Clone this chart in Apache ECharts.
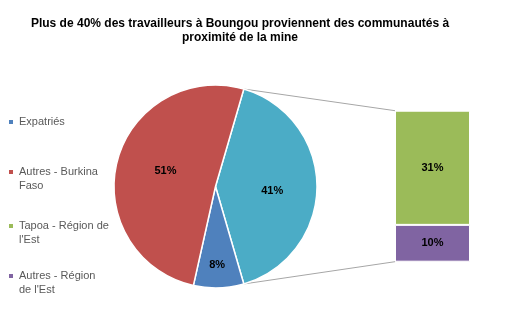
<!DOCTYPE html>
<html><head><meta charset="utf-8">
<script src="https://cdn.jsdelivr.net/npm/echarts@6/dist/echarts.min.js"></script>
<style>html,body{margin:0;padding:0;background:#fff}#c{width:505px;height:326px}</style>
</head><body><div id="c"></div>
<script>
const titleText = 'Plus de 40% des travailleurs à Boungou proviennent des communautés à\nproximité de la mine';
const pieNames = ['Autres', 'Expatriés', 'Autres - Burkina Faso'];
const pieValues = [41, 8, 51];
const barCategory = ['Détail'];
// stacked from bottom to top
const barNames = ["Autres - Région de l'Est", "Tapoa - Région de l'Est"];
const barValues = [10, 31];
const legendNames = ['Expatriés', 'Autres - Burkina Faso', "Tapoa - Région de l'Est", "Autres - Région de l'Est"];
const legendText = ['Expatriés', 'Autres - Burkina\nFaso', "Tapoa - Région de\nl'Est", "Autres - Région\nde l'Est"];

const pieColors = ['#4BACC6', '#4F81BD', '#C0504D'];
const barColors = ['#8064A2', '#9BBB59'];
const FONT = '"Liberation Sans", Arial, sans-serif';
const cx = 215.5, cy = 186.5, R = 101.5;
const gridLeft = 395, gridTop = 110.7, gridW = 75, gridH = 151;

const total = pieValues.reduce((a, b) => a + b, 0);
const otherTotal = barValues.reduce((a, b) => a + b, 0);
const startAngle = pieValues[0] / total * 180;

const chart = echarts.init(document.getElementById('c'), null, {renderer: 'canvas'});
const legendIconY = [122, 172, 226, 276];
const legends = legendNames.map((n, i) => {
  const lines = legendText[i].split('\n').length;
  const boxH = lines === 1 ? 14 : (lines * 2 - 1) * 14;
  return {
    orient: 'vertical', left: 7, top: legendIconY[i] - boxH / 2, padding: 0,
    itemWidth: 6, itemHeight: 6, icon: 'rect', selectedMode: false,
    data: [n],
    formatter: () => lines === 1 ? legendText[i] : '\n'.repeat(lines - 1) + legendText[i],
    textStyle: {color: '#595959', fontSize: 11, fontFamily: FONT, lineHeight: 14}
  };
});

// small label nudges (Excel places the labels slightly differently)
const labelNudge = [[1.5, 2], [0, 12.5], [1, -1]];

chart.setOption({
  animation: false,
  title: {
    text: titleText, left: 235, top: 12, textAlign: 'center',
    textStyle: {fontSize: 12, fontWeight: 'bold', color: '#000', fontFamily: FONT, lineHeight: 14}
  },
  legend: legends,
  grid: {left: gridLeft, top: gridTop, width: gridW, height: gridH},
  xAxis: {type: 'category', data: barCategory, show: false},
  yAxis: {type: 'value', min: 0, max: otherTotal, show: false},
  series: [
    {
      type: 'pie', center: [cx, cy], radius: R, startAngle: startAngle, clockwise: true,
      data: pieNames.map((n, i) => ({name: n, value: pieValues[i], itemStyle: {color: pieColors[i]}})),
      itemStyle: {borderColor: '#fff', borderWidth: 1.5},
      label: {position: 'inside', formatter: '{c}%', color: '#000', fontWeight: 'bold', fontSize: 11, fontFamily: FONT},
      labelLayout: p => ({dx: labelNudge[p.dataIndex][0], dy: labelNudge[p.dataIndex][1]}),
      emphasis: {disabled: true}
    },
    ...barNames.map((n, i) => ({
      type: 'bar', name: n, stack: 'other', data: [barValues[i]], barWidth: '100%',
      itemStyle: {color: barColors[i], borderColor: '#fff', borderWidth: 1},
      label: {show: true, position: 'inside', formatter: '{c}%', color: '#000', fontWeight: 'bold', fontSize: 11, fontFamily: FONT},
      emphasis: {disabled: true}
    }))
  ]
});

const a = startAngle * Math.PI / 180;
const p1 = [cx + R * Math.cos(a), cy - R * Math.sin(a)];
const p2 = [cx + R * Math.cos(a), cy + R * Math.sin(a)];
const yTop = chart.convertToPixel({yAxisIndex: 0}, otherTotal);
const yBot = chart.convertToPixel({yAxisIndex: 0}, 0);
chart.setOption({
  graphic: [
    {type: 'line', shape: {x1: p1[0], y1: p1[1], x2: gridLeft, y2: yTop}, style: {stroke: '#A6A6A6', lineWidth: 1}, z: 0},
    {type: 'line', shape: {x1: p2[0], y1: p2[1], x2: gridLeft, y2: yBot}, style: {stroke: '#A6A6A6', lineWidth: 1}, z: 0}
  ]
});
</script></body></html>
